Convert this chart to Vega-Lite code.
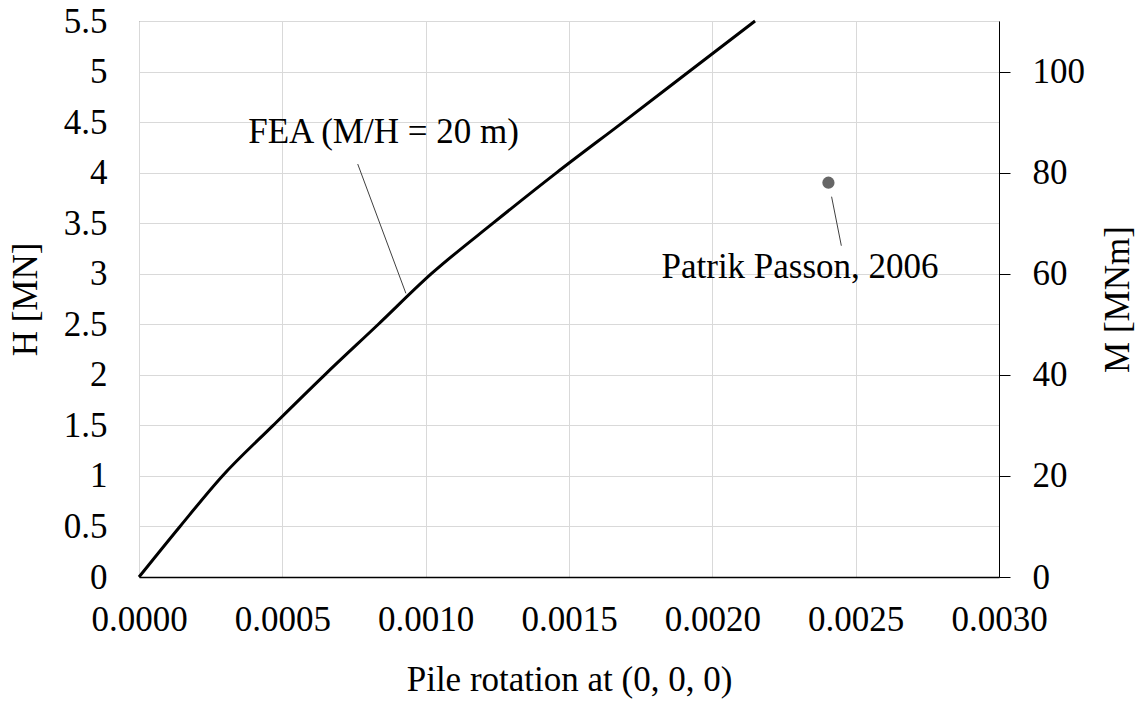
{
  "$schema": "https://vega.github.io/schema/vega-lite/v6.json",
  "width": 860,
  "height": 556,
  "autosize": {"type": "none"},
  "padding": {"left": 139, "top": 21, "right": 138, "bottom": 124},
  "background": "#ffffff",
  "config": {
    "font": "Liberation Serif",
    "view": {"stroke": "#595959", "strokeWidth": 1},
    "axis": {
      "labelFont": "Liberation Serif",
      "titleFont": "Liberation Serif",
      "labelFontSize": 35,
      "titleFontSize": 35,
      "labelColor": "#000000",
      "titleColor": "#000000",
      "titleFontWeight": "normal",
      "gridColor": "#d9d9d9",
      "gridWidth": 1,
      "labelFlush": false,
      "labelOverlap": false
    }
  },
  "datasets": {
    "fea": [
      {"rot": 0.0, "H": 0.0},
      {"rot": 0.000143, "H": 0.5},
      {"rot": 0.000291, "H": 1.0},
      {"rot": 0.000468, "H": 1.5},
      {"rot": 0.000648, "H": 2.0},
      {"rot": 0.000835, "H": 2.5},
      {"rot": 0.00102, "H": 3.0},
      {"rot": 0.001235, "H": 3.5},
      {"rot": 0.001457, "H": 4.0},
      {"rot": 0.001689, "H": 4.5},
      {"rot": 0.001919, "H": 5.0},
      {"rot": 0.002149, "H": 5.5}
    ],
    "leaders": [
      {"rot": 0.000763, "H": 4.085, "rot2": 0.000931, "H2": 2.806},
      {"rot": 0.002416, "H": 3.762, "rot2": 0.00245, "H2": 3.277}
    ],
    "labels": [
      {"rot": 0.000853, "H": 4.293, "label": "FEA (M/H = 20 m)"},
      {"rot": 0.002306, "H": 2.955, "label": "Patrik Passon, 2006"}
    ],
    "passon": [
      {"rot": 0.002405, "M": 78}
    ]
  },
  "layer": [
    {
      "layer": [
        {
          "data": {"name": "fea"},
          "mark": {"type": "line", "color": "#000000", "strokeWidth": 3, "interpolate": "monotone"},
          "encoding": {
            "x": {
              "field": "rot", "type": "quantitative",
              "scale": {"domain": [0, 0.003], "nice": false, "zero": false},
              "axis": {
                "values": [0, 0.0005, 0.001, 0.0015, 0.002, 0.0025, 0.003],
                "format": ".4f",
                "domain": true, "domainColor": "#000000", "domainWidth": 1.5,
                "ticks": false,
                "labelBaseline": "alphabetic",
                "labelPadding": 53,
                "grid": true,
                "title": "Pile rotation at (0, 0, 0)",
                "titleBaseline": "alphabetic",
                "titleX": 430,
                "titleY": 113,
                "titleAlign": "center"
              }
            },
            "y": {
              "field": "H", "type": "quantitative",
              "scale": {"domain": [0, 5.5], "nice": false, "zero": false},
              "axis": {
                "values": [0, 0.5, 1, 1.5, 2, 2.5, 3, 3.5, 4, 4.5, 5, 5.5],
                "format": "~g",
                "domain": false,
                "ticks": false,
                "labelPadding": 32,
                "grid": true,
                "title": "H [MN]",
                "titleAngle": 270,
                "titleX": -114,
                "titleY": 278,
                "titleAlign": "center",
                "titleBaseline": "middle"
              }
            }
          }
        },
        {
          "data": {"name": "leaders"},
          "mark": {"type": "rule", "color": "#404040", "strokeWidth": 1},
          "encoding": {
            "x": {"field": "rot", "type": "quantitative"},
            "y": {"field": "H", "type": "quantitative"},
            "x2": {"field": "rot2"},
            "y2": {"field": "H2"}
          }
        },
        {
          "data": {"name": "labels"},
          "mark": {"type": "text", "font": "Liberation Serif", "fontSize": 35, "color": "#000000", "align": "center", "baseline": "alphabetic"},
          "encoding": {
            "x": {"field": "rot", "type": "quantitative"},
            "y": {"field": "H", "type": "quantitative"},
            "text": {"field": "label", "type": "nominal"}
          }
        }
      ]
    },
    {
      "data": {"name": "passon"},
      "mark": {"type": "point", "shape": "circle", "filled": true, "size": 150, "color": "#666666", "opacity": 1},
      "encoding": {
        "x": {"field": "rot", "type": "quantitative"},
        "y": {
          "field": "M", "type": "quantitative",
          "scale": {"domain": [0, 110], "nice": false, "zero": false},
          "axis": {
            "orient": "right",
            "values": [0, 20, 40, 60, 80, 100],
            "format": "d",
            "domain": true, "domainColor": "#000000", "domainWidth": 1,
            "ticks": true, "tickColor": "#000000", "tickSize": 11, "tickWidth": 1,
            "labelPadding": 22,
            "grid": false,
            "title": "M [MNm]",
            "titleAngle": 270,
            "titleX": 118,
            "titleY": 278,
            "titleAlign": "center",
            "titleBaseline": "middle"
          }
        }
      }
    }
  ],
  "resolve": {"scale": {"y": "independent"}}
}
